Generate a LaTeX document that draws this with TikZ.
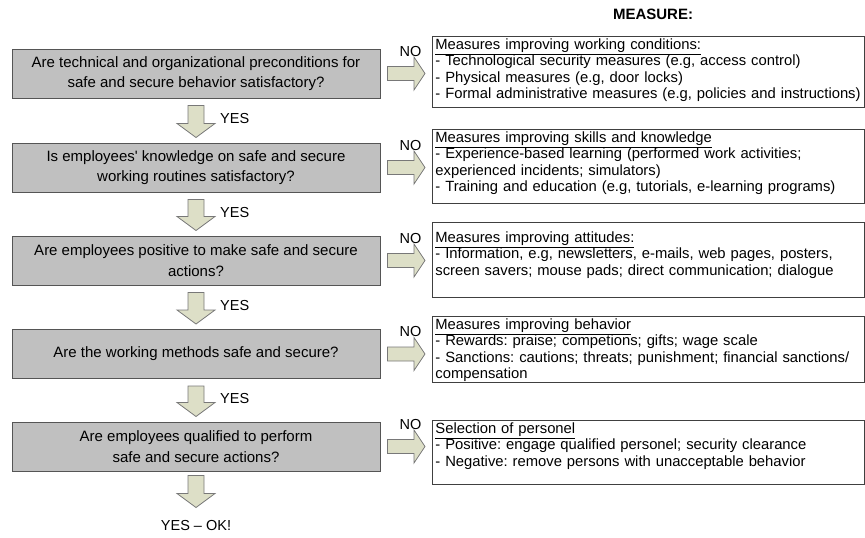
\documentclass[tikz,border=0pt]{standalone}
\usepackage{fontspec}
\setmainfont{Liberation Sans}
\usetikzlibrary{calc}
\frenchspacing
\hyphenpenalty=10000

\definecolor{qfill}{RGB}{192,192,192}
\definecolor{qline}{RGB}{85,85,85}
\definecolor{afill}{RGB}{221,223,199}
\definecolor{aline}{RGB}{120,120,120}

% fat arrows between two named points
\newcommand{\downblock}[2]{%
  \draw[blockarrow] ($(#1)+(-8,0)$) -- ($(#1)+(8,0)$) -- ($(#2)+(8,-14)$) -- ($(#2)+(19,-14)$)
    -- (#2) -- ($(#2)+(-19,-14)$) -- ($(#2)+(-8,-14)$) -- cycle;}
\newcommand{\rightblock}[2]{%
  \draw[blockarrow] ($(#1)+(0,-7)$) -- ($(#2)+(-11,-7)$) -- ($(#2)+(-11,-16.5)$)
    -- (#2) -- ($(#2)+(-11,16.5)$) -- ($(#2)+(-11,7)$) -- ($(#1)+(0,7)$) -- cycle;}

\begin{document}
\begin{tikzpicture}[x=1pt, y=-1pt,
  question/.style={draw=qline, fill=qfill, line width=1pt, minimum width=368pt,
    minimum height=49pt, inner sep=0pt, align=center, font=\fontsize{15}{20.5}\selectfont},
  measure/.style={draw=black!75, line width=0.8pt, anchor=north west, text width=426pt,
    inner xsep=3pt, inner ysep=0pt, align=left, font=\fontsize{14.8}{16.3}\selectfont},
  blockarrow/.style={draw=aline, fill=afill, line width=0.8pt},
  answer/.style={font=\fontsize{14.5}{16}\selectfont, inner sep=0pt}]

\useasboundingbox (0,0) rectangle (865,538);

\node[font=\bfseries\fontsize{15}{16}\selectfont] (measure) at (653,14) {MEASURE:};

% questions
\node[question] (q1) at (196,73.5) {Are technical and organizational preconditions for\\safe and secure behavior satisfactory?};
\node[question] (q2) at (196,167.5) {Is employees\textquotesingle{} knowledge on safe and secure\\working routines satisfactory?};
\node[question] (q3) at (196,260.5) {Are employees positive to make safe and secure\\actions?};
\node[question] (q4) at (196,354) {Are the working methods safe and secure?};
\node[question] (q5) at (196,446.5) {Are employees qualified to perform\\safe and secure actions?};

% measures
\node[measure, text height=13pt, text depth=58pt] (m1) at (432,36) {\underline{Measures improving working conditions:}\\- Technological security measures (e.g, access control)\\- Physical measures (e.g, door locks)\\- Formal administrative measures (e.g, policies and instructions)};
\node[measure, text height=13pt, text depth=61pt] (m2) at (432,129) {\underline{Measures improving skills and knowledge}\\- Experience-based learning (performed work activities;\\experienced incidents; simulators)\\- Training and education (e.g, tutorials, e-learning programs)};
\node[measure, text height=20pt, text depth=55pt] (m3) at (432,222) {\underline{Measures improving attitudes:}\\- Information, e.g, newsletters, e-mails, web pages, posters,\\screen savers; mouse pads; direct communication; dialogue};
\node[measure, text height=13pt, text depth=53pt] (m4) at (432,316) {\underline{Measures improving behavior}\\- Rewards: praise; competions; gifts; wage scale\\- Sanctions: cautions; threats; punishment; financial sanctions/\\compensation};
\node[measure, text height=13pt, text depth=51pt] (m5) at (432,420) {\underline{Selection of personel}\\- Positive: engage qualified personel; security clearance\\- Negative: remove persons with unacceptable behavior};

\foreach \i in {1,...,5}{
  \coordinate (a\i) at ($(q\i.east)+(7,0)$);
  \coordinate (b\i) at ($(q\i.east -| m\i.west)+(-7,0)$);
  \rightblock{a\i}{b\i}
  \node[answer] (no\i) at ($(a\i)+(23,-22)$) {NO};
}

\foreach \a/\b [count=\k] in {q1/q2,q2/q3,q3/q4,q4/q5}{
  \coordinate (t\k) at ($(\a.south)+(0,7)$);
  \coordinate (p\k) at ($(\b.north)+(0,-5)$);
  \downblock{t\k}{p\k}
  \node[answer, anchor=west] (yes\k) at ($(t\k)+(24,13)$) {YES};
}

\coordinate (t5) at ($(q5.south)+(0,4)$);
\coordinate (p5) at ($(q5.south)+(0,36)$);
\downblock{t5}{p5}
\node[answer] (ok) at ($(q5.south)+(0,54)$) {YES – OK!};

\end{tikzpicture}
\end{document}
